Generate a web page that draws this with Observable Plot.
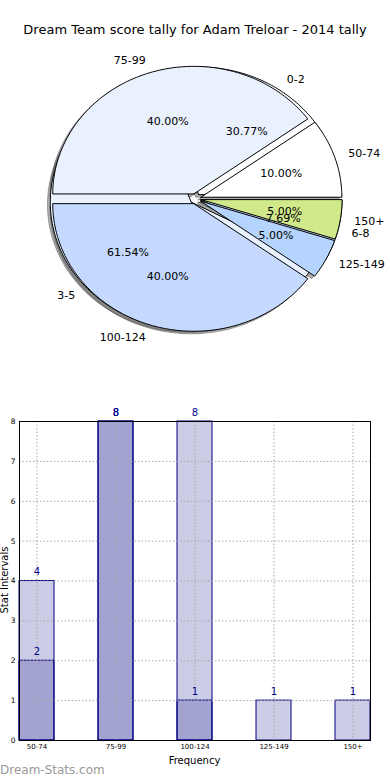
<!DOCTYPE html>
<html><head><meta charset="utf-8">
<script src="https://cdn.jsdelivr.net/npm/d3@7"></script>
<script src="https://cdn.jsdelivr.net/npm/@observablehq/plot@0.6"></script>
<style>
body{margin:0;background:#fff;font-family:"DejaVu Sans",sans-serif;}
#wrap{position:relative;width:390px;height:780px;overflow:hidden;background:#fff;}
#pie{position:absolute;top:0;left:0;}
#bars{position:absolute;top:400px;left:0;}
#title{position:absolute;top:22px;left:0;width:390px;text-align:center;font-size:13px;line-height:16px;color:#000;}
.lab{position:absolute;font-size:10px;line-height:12px;color:#000;text-align:center;white-space:nowrap;}
#ylab{left:-95.5px;top:574px;width:200px;transform:rotate(-90deg);}
#xlab{left:94.5px;top:755px;width:200px;}
#mark{position:absolute;left:0;top:763px;font-size:12px;line-height:14px;color:#999;font-weight:normal;}
svg text{font-family:"DejaVu Sans",sans-serif;}
</style></head><body>
<div id="wrap">
  <div id="pie"></div>
  <div id="bars"></div>
  <div id="title">Dream Team score tally for Adam Treloar - 2014 tally</div>
  <div class="lab" id="ylab">Stat Intervals</div>
  <div class="lab" id="xlab">Frequency</div>
  <div id="mark">Dream-Stats.com</div>
</div>
<script>
// ---- data ----
const scoreLabels = ["50-74", "75-99", "100-124", "125-149", "150+"];
const scoreCounts = [2, 8, 8, 1, 1];
const gameLabels = ["0-2", "3-5", "6-8"];
const gameCounts = [4, 8, 1];
const sliceColors = ["#ffffff", "#eaf1fe", "#c4d9fd", "#b4d4fd", "#d0e98b"];

const barCategories = ["50-74", "75-99", "100-124", "125-149", "150+"];
const barBack = [4, 8, 8, 1, 1];
const barFront = [2, 8, 1, 0, 0];
const yTicks = [0, 1, 2, 3, 4, 5, 6, 7, 8];

// ---- pie geometry (unit circle, stretched by the x/y scales) ----
const EXPLODE = 0.04, LABELDIST = 1.1, PCTDIST = 0.6, SHADOW = 0.02;
function buildPie(labels, counts, pieId) {
  const total = d3.sum(counts);
  const cum = d3.cumsum(counts);
  return counts.map((c, i) => {
    const a0 = (cum[i] - c) / total * 2 * Math.PI;
    const a1 = cum[i] / total * 2 * Math.PI;
    const tm = (a0 + a1) / 2;
    return {id: pieId + "-" + i, label: labels[i], pct: (c / total * 100).toFixed(2) + "%",
      a0, a1, tm, cx: EXPLODE * Math.cos(tm), cy: EXPLODE * Math.sin(tm),
      color: sliceColors[i % sliceColors.length]};
  });
}
function wedgePoints(w, dx = 0, dy = 0) {
  const n = Math.max(2, Math.ceil((w.a1 - w.a0) / (Math.PI / 180)));
  const pts = [{id: w.id, color: w.color, x: w.cx + dx, y: w.cy + dy}];
  for (let k = 0; k <= n; k++) {
    const a = w.a0 + (w.a1 - w.a0) * k / n;
    pts.push({id: w.id, color: w.color, x: w.cx + dx + Math.cos(a), y: w.cy + dy + Math.sin(a)});
  }
  pts.push({id: w.id, color: w.color, x: w.cx + dx, y: w.cy + dy});
  return pts;
}
const pieScore = buildPie(scoreLabels, scoreCounts, "s");
const pieGame = buildPie(gameLabels, gameCounts, "g");
const allWedges = [...pieGame, ...pieScore];
const shadowPts = allWedges.flatMap(w => wedgePoints(w, -SHADOW, -SHADOW));
const gamePts = pieGame.flatMap(w => wedgePoints(w));
const scorePts = pieScore.flatMap(w => wedgePoints(w));
const outerLabels = allWedges.map(w => ({label: w.label,
  x: w.cx + LABELDIST * Math.cos(w.tm), y: w.cy + LABELDIST * Math.sin(w.tm)}));
const pctLabels = allWedges.map(w => ({label: w.pct,
  x: w.cx + PCTDIST * Math.cos(w.tm), y: w.cy + PCTDIST * Math.sin(w.tm)}));

const PW = 390, PH = 400, CX = 195, CY = 198.3, RX = 141, RY = 127.6;
const pie = Plot.plot({
  width: PW, height: PH, margin: 0,
  x: {domain: [-CX / RX, (PW - CX) / RX], axis: null},
  y: {domain: [(CY - PH) / RY, CY / RY], axis: null},
  color: {type: "identity"},
  marks: [
    Plot.line(shadowPts, {x: "x", y: "y", z: "id", fill: "#4d4d4d", fillOpacity: 0.45, stroke: "#4d4d4d", strokeOpacity: 0.45, strokeWidth: 1}),
    Plot.line(gamePts, {x: "x", y: "y", z: "id", fill: "color", stroke: "black", strokeWidth: 1, strokeLinejoin: "miter"}),
    Plot.line(scorePts, {x: "x", y: "y", z: "id", fill: "color", stroke: "black", strokeWidth: 1, strokeLinejoin: "miter"}),
    Plot.text(outerLabels.filter(d => d.x > 0), {x: "x", y: "y", text: "label", textAnchor: "start", fontSize: 11, fill: "black"}),
    Plot.text(outerLabels.filter(d => d.x <= 0), {x: "x", y: "y", text: "label", textAnchor: "end", fontSize: 11, fill: "black"}),
    Plot.text(pctLabels, {x: "x", y: "y", text: "label", fontSize: 11, fill: "black"})
  ]
});
document.getElementById("pie").appendChild(pie);

// ---- bar chart ----
const backData = barCategories.map((c, i) => ({cat: c, v: barBack[i]}));
const frontData = barCategories.map((c, i) => ({cat: c, v: barFront[i]}));
const bars = Plot.plot({
  width: 390, height: 380, marginTop: 21, marginBottom: 40, marginLeft: 19, marginRight: 20,
  x: {type: "band", domain: barCategories, paddingInner: 0.557, paddingOuter: 0, align: 0.5},
  y: {domain: [0, 8]},
  marks: [
    Plot.barY(backData, {x: "cat", y: "v", fill: "#000080", fillOpacity: 0.2, stroke: "#000080", strokeWidth: 1, inset: 0}),
    Plot.barY(frontData.filter(d => d.v > 0), {x: "cat", y: "v", fill: "#000080", fillOpacity: 0.2, stroke: "#000080", strokeWidth: 1, inset: 0}),
    Plot.gridX({stroke: "#a8a8a8", strokeOpacity: 1, strokeDasharray: "1.5,2", strokeWidth: 1}),
    Plot.gridY(yTicks.slice(1, -1), {stroke: "#a8a8a8", strokeOpacity: 1, strokeDasharray: "1.5,2", strokeWidth: 1}),
    Plot.text(backData.filter(d => d.v > 0), {x: "cat", y: "v", text: d => String(d.v), dy: -9, fill: "#00008b", fontSize: 10}),
    Plot.text(frontData.filter(d => d.v > 0), {x: "cat", y: "v", text: d => String(d.v), dy: -9, fill: "#00008b", fontSize: 10}),
    Plot.axisX({tickSize: 0, tickPadding: 4, fontSize: 7, label: null, fill: "black"}),
    Plot.axisY({ticks: yTicks, tickSize: 0, tickPadding: 4, fontSize: 7.5, label: null, fill: "black", tickFormat: d3.format("d")}),
    Plot.frame({stroke: "black", strokeWidth: 1})
  ]
});
document.getElementById("bars").appendChild(bars);
</script>
</body></html>
